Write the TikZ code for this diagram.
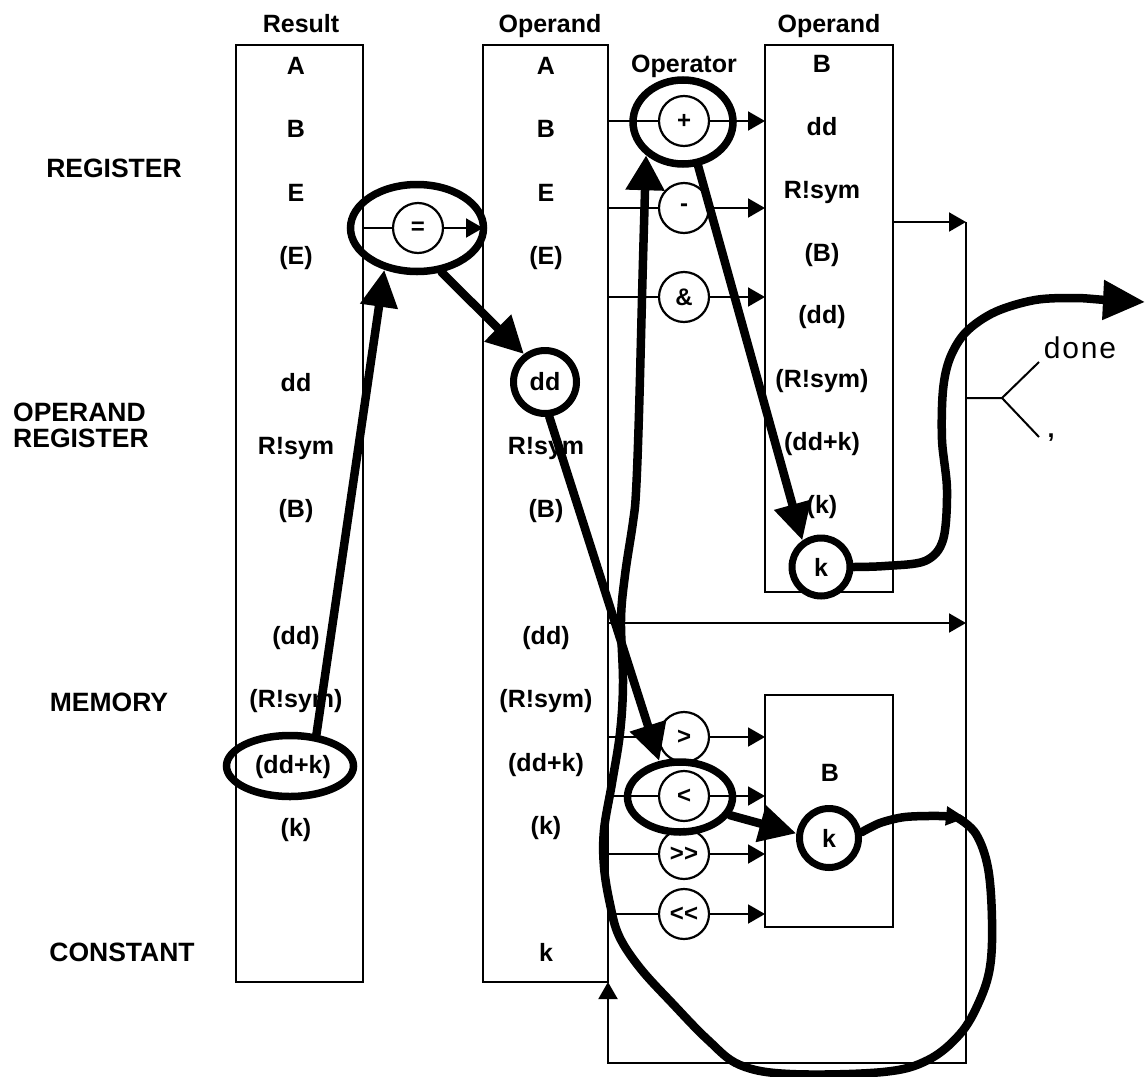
\documentclass[tikz,border=0pt]{standalone}
\usepackage{fontspec}
\setmainfont{Liberation Sans}
\newfontfamily\donefont[LetterSpace=6]{Liberation Sans}
\usetikzlibrary{arrows.meta,shapes.geometric}
\begin{document}
\begin{tikzpicture}[x=1pt,y=-1pt,
  lbl/.style={font=\fontsize{25}{30}\selectfont\bfseries, inner sep=0pt, text height=18pt, text depth=0pt},
  side/.style={font=\fontsize{26.5}{30}\selectfont\bfseries, inner sep=0pt, text height=19pt, text depth=0pt},
  colbox/.style={draw, line width=2.6pt, inner sep=0pt, outer sep=0pt},
  thinl/.style={line width=2pt},
  tarr/.style={thinl, -{Triangle[length=17pt,width=19pt]}},
  opc/.style={circle, draw, line width=2.2pt, fill=white, minimum size=50pt, inner sep=0pt, font=\fontsize{24}{28}\selectfont\bfseries},
  ring/.style={ellipse, draw, line width=7.5pt, inner sep=0pt},
  tcirc/.style={circle, draw, line width=7pt, fill=white, inner sep=0pt, font=\fontsize{25}{30}\selectfont\bfseries},
  thk/.style={line width=8.5pt, line cap=round, line join=round},
  barr/.style={thk, -{Triangle[length=37pt,width=36pt]}},
]
\fill[white] (0,0) rectangle (1148,1076);
\useasboundingbox (0,0) rectangle (1148,1076);

% column boxes
\node[colbox, minimum width=127pt, minimum height=937pt] (resbox) at (299.5,513.5) {};
\node[colbox, minimum width=125pt, minimum height=937pt] (opbox) at (545.5,513.5) {};
\node[colbox, minimum width=128pt, minimum height=547pt] (rbox) at (829,318.5) {};
\node[colbox, minimum width=128pt, minimum height=232pt] (ibox) at (829,811) {};

% headers
\node[lbl] (hres) at (301,23) {Result};
\node[lbl] (hop1) at (550,23) {Operand};
\node[lbl] (hop2) at (829,23) {Operand};
\node[lbl] (hopr) at (684,63) {Operator};

% side labels
\node[side] (sreg) at (114,168) {REGISTER};
\node[side, anchor=west] (sopr) at (13,412) {OPERAND};
\node[side, anchor=west] (sopr2) at (13,438) {REGISTER};
\node[side] (smem) at (109,702) {MEMORY};
\node[side] (scon) at (122,952) {CONSTANT};

% result column
\node[lbl] (ra) at (296,65) {A};
\node[lbl] (rb) at (296,128) {B};
\node[lbl] (re) at (296,192) {E};
\node[lbl] (rpe) at (296,255) {(E)};
\node[lbl] (rdd) at (296,382) {dd};
\node[lbl] (rsym) at (296,445) {R!sym};
\node[lbl] (rpb) at (296,508) {(B)};
\node[lbl] (rpdd) at (296,635) {(dd)};
\node[lbl] (rpsym) at (296,698) {(R!sym)};
\node[lbl] (rpdk) at (293,764) {(dd+k)};
\node[lbl] (rpk) at (296,827) {(k)};

% operand column
\node[lbl] (oa) at (546,65) {A};
\node[lbl] (ob) at (546,128) {B};
\node[lbl] (oe) at (546,192) {E};
\node[lbl] (ope) at (546,255) {(E)};
\node[lbl] (osym) at (546,445) {R!sym};
\node[lbl] (opb) at (546,508) {(B)};
\node[lbl] (opdd) at (546,635) {(dd)};
\node[lbl] (opsym) at (546,698) {(R!sym)};
\node[lbl] (opdk) at (546,762) {(dd+k)};
\node[lbl] (opk) at (546,825) {(k)};
\node[lbl] (ok) at (546,952) {k};

% right operand column
\node[lbl] (qb) at (822,63) {B};
\node[lbl] (qdd) at (822,126) {dd};
\node[lbl] (qsym) at (822,189) {R!sym};
\node[lbl] (qpb) at (822,252) {(B)};
\node[lbl] (qpdd) at (822,314) {(dd)};
\node[lbl] (qpsym) at (822,378) {(R!sym)};
\node[lbl] (qpdk) at (822,441) {(dd+k)};
\node[lbl] (qpk) at (822,504) {(k)};

% inner box
\node[lbl] (ib) at (830,772) {B};

% operator coordinates
\coordinate (ceq) at (418,228);
\coordinate (cplus) at (684,121);
\coordinate (cminus) at (684,208);
\coordinate (camp) at (684,297);
\coordinate (cgt) at (684,737);
\coordinate (clt) at (684,796);
\coordinate (cgg) at (684,854);
\coordinate (cll) at (684,914);

% thin connectors
\draw[tarr] (resbox.east |- ceq) -- (opbox.west |- ceq);
\draw[tarr] (opbox.east |- cplus) -- (rbox.west |- cplus);
\draw[tarr] (opbox.east |- cminus) -- (rbox.west |- cminus);
\draw[tarr] (opbox.east |- camp) -- (rbox.west |- camp);
\draw[tarr] (opbox.east |- cgt) -- (ibox.west |- cgt);
\draw[tarr] (opbox.east |- clt) -- (ibox.west |- clt);
\draw[tarr] (opbox.east |- cgg) -- (ibox.west |- cgg);
\draw[tarr] (opbox.east |- cll) -- (ibox.west |- cll);

\coordinate (vT) at (966,222);
\coordinate (vB) at (966,1063);
\coordinate (cmid) at (608,623);
\draw[tarr] (rbox.east |- vT) -- (vT);
\draw[tarr] (vT) -- (vB) -| (opbox.south east);
\draw[tarr] (opbox.east |- cmid) -- (vT |- cmid);

\coordinate (fork) at (1002,398);
\coordinate (fU) at (1039,362);
\coordinate (fD) at (1039,437);
\draw[thinl] (vT |- fork) -- (fork) -- (fU);
\draw[thinl] (fork) -- (fD);
\node[font=\donefont\fontsize{30}{34}\selectfont, inner sep=0pt, anchor=base] (done) at (1080,358) {done};
\node[lbl] (comma) at (1051,428) {,};

% operator circles
\node[opc] (eq) at (ceq) {=};
\node[opc] (plus) at (cplus) {+};
\node[opc] (minus) at (cminus) {-};
\node[opc] (amp) at (camp) {\&};
\node[opc] (gt) at (cgt) {>};
\node[opc] (lt) at (clt) {<};
\node[opc] (gg) at (cgg) {{>}{>}};
\node[opc] (ll) at (cll) {{<}{<}};

% rings
\node[ring, minimum width=133pt, minimum height=87pt] (eqE) at (417,228) {};
\node[ring, minimum width=100pt, minimum height=84pt] (plusE) at (683,122) {};
\node[ring, minimum width=105pt, minimum height=70pt] (ltE) at (680,797) {};
\node[ring, minimum width=127pt, minimum height=61pt] (dkE) at (290,766) {};

% thick circles
\node[tcirc, minimum size=63pt] (ddC) at (545,382) {dd};
\node[tcirc, minimum size=58pt] (kR) at (821,567) {k};
\node[tcirc, minimum size=59pt] (kB) at (829,838) {k};

% thick arrows
\draw[barr] (dkE.50) -- (eqE.232);
\draw[barr] (eqE.-61) -- (ddC.127);
\draw[barr] (ddC.-83) -- (ltE.120);
\draw[barr] (ltE.-20) -- (kB.172);
\draw[barr] (plusE.-71) -- (kR.125);

\draw[thk, -{Triangle[length=42pt,width=38pt]}] plot[smooth, tension=0.55] coordinates {(kR.east) (885,566) (925,561) (943,540) (947,490) (942,440) (943,390) (950,358) (966,332) (995,312) (1035,300) (1075,298) (1106,300) (1145,302)};

\draw[thk, -{Triangle[length=20pt,width=18pt]}] plot[smooth, tension=0.5] coordinates {(kB.10) (880,823) (905,817) (940,816) (966,818)};

\draw[thk, -{Triangle[length=35pt,width=37pt]}] plot[smooth, tension=0.6] coordinates {(958,818) (976,834) (988,868) (992,920) (990,967) (979,1002) (960,1034) (928,1060) (883,1072) (790,1074) (740,1065) (708,1040) (672,1003) (640,968) (619,936) (610,904) (604,867) (604,830) (612,783) (620,733) (623,683) (621,620) (625,575) (633,522) (636,492) (639,413) (643,260) (plusE.222)};
\end{tikzpicture}
\end{document}
